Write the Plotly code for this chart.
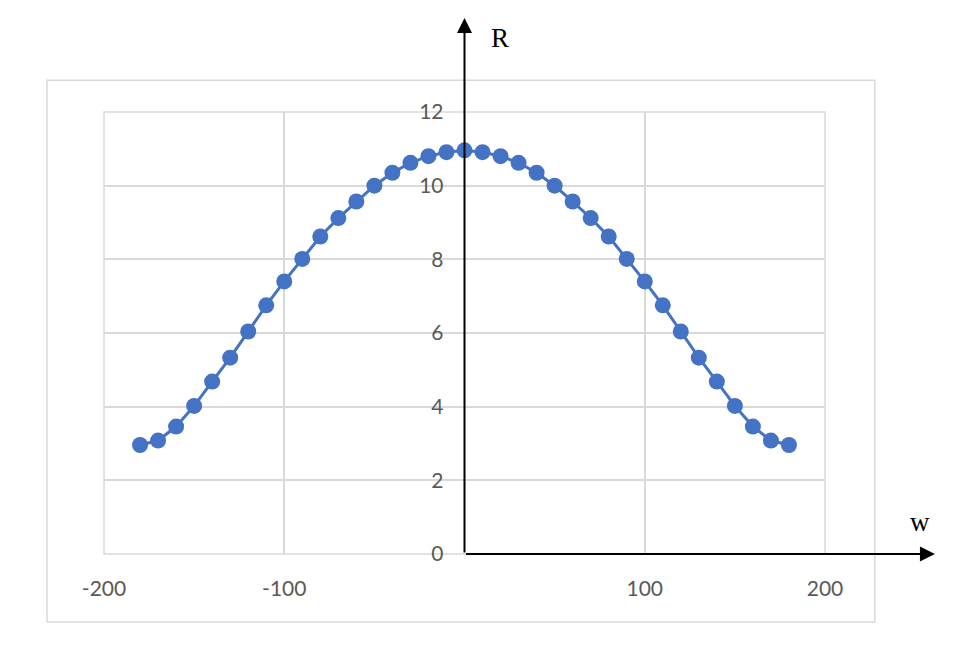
import plotly.graph_objects as go

# Data
w_values = [-180, -170, -160, -150, -140, -130, -120, -110, -100, -90, -80, -70, -60,
            -50, -40, -30, -20, -10, 0, 10, 20, 30, 40, 50, 60, 70, 80, 90, 100,
            110, 120, 130, 140, 150, 160, 170, 180]
r_values = [2.96, 3.08, 3.46, 4.02, 4.68, 5.33, 6.04, 6.75, 7.40, 8.01, 8.62, 9.12, 9.57,
            10.00, 10.35, 10.62, 10.80, 10.91, 10.96, 10.91, 10.80, 10.62, 10.35, 10.00,
            9.57, 9.12, 8.62, 8.01, 7.40, 6.75, 6.04, 5.33, 4.68, 4.02, 3.46, 3.08, 2.96]

x_tickvals = [-200, -100, 100, 200]
x_ticktext = ["-200", "-100", "100", "200"]
y_tickvals = [0, 2, 4, 6, 8, 10, 12]
y_ticktext = ["0", "2", "4", "6", "8", "10", "12"]

BLUE = "#4472C4"
GRID = "#d9d9d9"
TEXT = "#595959"
SERIF = "Liberation Serif, Times New Roman, serif"

fig = go.Figure()
fig.add_trace(go.Scatter(
    x=w_values, y=r_values, mode="lines+markers",
    line=dict(color=BLUE, width=3),
    marker=dict(color=BLUE, size=16),
    showlegend=False, cliponaxis=False,
))

fig.update_layout(
    width=972, height=650,
    margin=dict(l=96, r=155, t=104, b=104),
    paper_bgcolor="white", plot_bgcolor="white",
    font=dict(family="Lato, Open Sans, sans-serif", size=21, color=TEXT),
    xaxis=dict(range=[-200, 200], tickvals=x_tickvals, ticktext=x_ticktext,
               showgrid=True, gridcolor=GRID, gridwidth=1.5, zeroline=False,
               showline=False, ticks="", ticklabelstandoff=20),
    yaxis=dict(range=[0, 12], tickvals=y_tickvals, ticktext=y_ticktext,
               showgrid=True, gridcolor=GRID, gridwidth=1.5, zeroline=False,
               showline=False, ticks="", anchor="free", position=0.5,
               ticklabelstandoff=21),
    shapes=[
        dict(type="rect", xref="paper", yref="paper",
             x0=-0.079, x1=1.069, y0=-0.154, y1=1.072,
             line=dict(color=GRID, width=1.5), layer="below"),
        dict(type="rect", xref="x domain", yref="y domain",
             x0=0, x1=1, y0=0, y1=1,
             line=dict(color=GRID, width=1.5), layer="below"),
    ],
)

# Black coordinate axes with arrows
fig.add_annotation(x=0, y=14.55, ax=0, ay=0, xref="x", yref="y", axref="x", ayref="y",
                   text="", showarrow=True, arrowhead=2, arrowsize=1.5, arrowwidth=2,
                   arrowcolor="black")
fig.add_annotation(x=261, y=0, ax=0, ay=0, xref="x", yref="y", axref="x", ayref="y",
                   text="", showarrow=True, arrowhead=2, arrowsize=1.5, arrowwidth=2,
                   arrowcolor="black")
fig.add_annotation(x=0.549, y=1.167, xref="paper", yref="paper", text="R",
                   xanchor="center", yanchor="middle",
                   showarrow=False, font=dict(family=SERIF, size=27, color="black"))
fig.add_annotation(x=1.132, y=0.072, xref="paper", yref="paper", text="w",
                   xanchor="center", yanchor="middle",
                   showarrow=False, font=dict(family=SERIF, size=27, color="black"))

fig.write_html("out.html")
